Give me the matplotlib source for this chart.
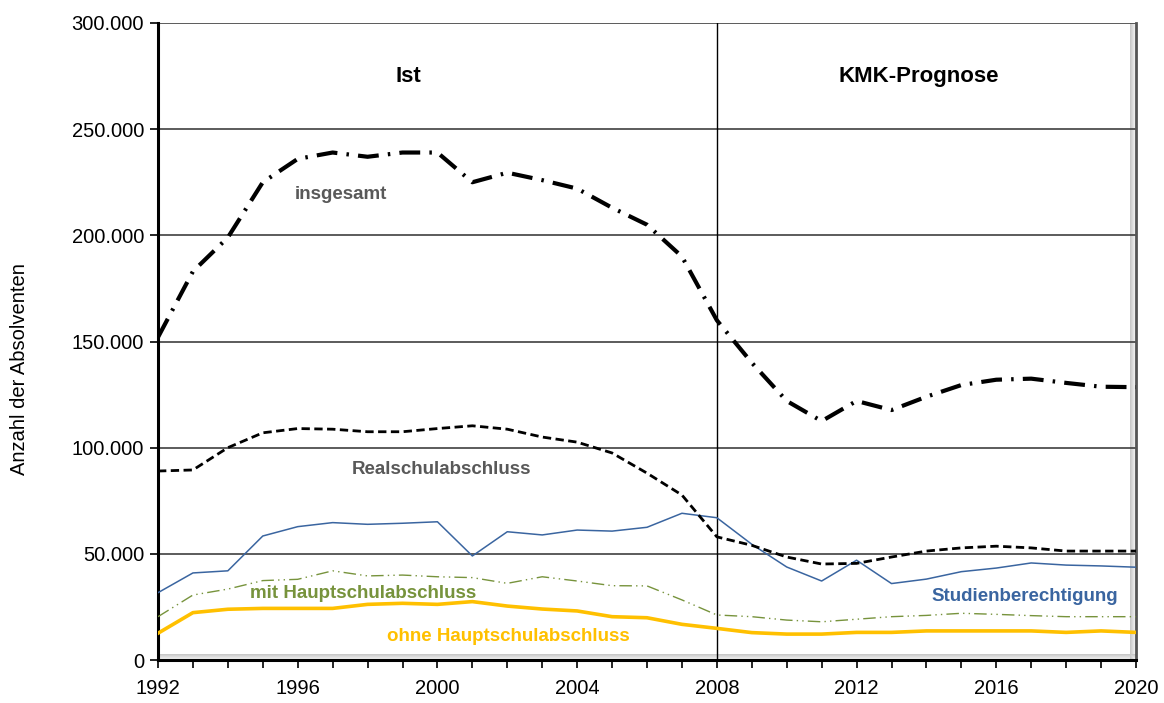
import matplotlib
matplotlib.use("Agg")
import matplotlib.pyplot as plt
import numpy as np
from matplotlib.patches import Rectangle
from matplotlib.ticker import FuncFormatter, MultipleLocator

plt.rcParams['font.family'] = ['Liberation Sans', 'DejaVu Sans']

years = list(range(1992, 2021))
insgesamt = [152, 183, 199, 225, 236, 239, 237, 239, 239, 225, 229.5, 226, 222, 213,
             205, 190, 160, 140, 122, 112.5, 122, 117.7, 124, 129.5, 132, 132.5, 130.5, 128.7, 128.5]
realschul = [89, 89.5, 100, 107, 109, 108.7, 107.5, 107.5, 109, 110.3, 108.7, 105, 102.6, 97.5,
             88, 77.7, 58, 54, 48.5, 45.2, 45.5, 48.5, 51.3, 52.8, 53.6, 52.8, 51.3, 51.3, 51.3]
studien = [31.7, 41, 42, 58.4, 62.8, 64.7, 63.9, 64.4, 65.1, 49, 60.4, 58.9, 61.2, 60.7,
           62.5, 69.1, 67, 54.5, 43.8, 37.2, 47, 36, 38.1, 41.6, 43.3, 45.7, 44.7, 44.3, 43.7]
mit_haupt = [20.4, 30.6, 33.4, 37.4, 38, 42, 39.6, 40, 39.2, 38.8, 36.1, 39.2, 37.2, 35,
             34.9, 28.3, 21.2, 20.4, 18.8, 18, 19.2, 20.4, 21, 22, 21.5, 20.9, 20.4, 20.4, 20.4]
ohne_haupt = [12.6, 22.3, 23.9, 24.3, 24.3, 24.3, 26.2, 26.7, 26.2, 27.5, 25.4, 24, 23.1, 20.4,
              19.9, 16.8, 14.9, 12.9, 12.2, 12.2, 13, 13, 13.7, 13.7, 13.7, 13.7, 13, 13.7, 13]

x_ticks = [1992, 1996, 2000, 2004, 2008, 2012, 2016, 2020]
y_ticks = [0, 50000, 100000, 150000, 200000, 250000, 300000]
split_year = 2008

to_abs = lambda v: [a * 1000 for a in v]

W, H = 1164, 703
fig = plt.figure(figsize=(W / 100, H / 100), dpi=100)
L, R, T, B = 158, 1136, 23, 660
ax = fig.add_axes([L / W, 1 - B / H, (R - L) / W, (B - T) / H])

# 3D-like floor and wall shading
for i in range(6):
    g = 1 - (i + 1) * 0.035
    ax.add_patch(Rectangle((0, i / (B - T)), 1, 1 / (B - T), transform=ax.transAxes,
                           color=(g, g, g), lw=0, zorder=0.5))
    ax.add_patch(Rectangle((1 - (i + 1) / (R - L), 0), 1 / (R - L), 1, transform=ax.transAxes,
                           color=(g, g, g), lw=0, zorder=0.5))

for yv in y_ticks[1:]:
    ax.axhline(yv, color='#404040', lw=1.2, zorder=1)
ax.axvline(split_year, color='black', lw=1.0, zorder=1)

ax.plot(years, to_abs(ohne_haupt), color='#FFC000', lw=2.6, zorder=3)
ax.plot(years, to_abs(mit_haupt), color='#77933C', lw=1.0,
        linestyle=(0, (9, 3, 1, 3, 1, 3)), zorder=3)
ax.plot(years, to_abs(studien), color='#3A65A0', lw=1.1, zorder=3)
ax.plot(years, to_abs(realschul), color='black', lw=2.0,
        linestyle=(0, (3, 1.6)), zorder=4)
ax.plot(years, to_abs(insgesamt), color='black', lw=3.0,
        linestyle=(0, (5, 2.2, 0.6, 2.2)), zorder=5)

ax.set_xlim(1992, 2020)
ax.set_ylim(0, 300000)
ax.set_xticks(x_ticks)
ax.xaxis.set_minor_locator(MultipleLocator(1))
ax.set_yticks(y_ticks)
ax.yaxis.set_major_formatter(FuncFormatter(lambda v, p: f"{int(v):,}".replace(",", ".")))
ax.tick_params(axis='both', which='both', direction='out', length=6, width=1.2, labelsize=14.5,
               color='black')
ax.tick_params(axis='x', pad=8)
ax.tick_params(axis='y', pad=4)

ax.spines['top'].set_visible(False)
ax.spines['left'].set_linewidth(2.2)
ax.spines['bottom'].set_linewidth(2.2)
ax.spines['right'].set_linewidth(2.0)
ax.spines['right'].set_color('#555555')

fig.text(20 / W, 1 - 369 / H, 'Anzahl der Absolventen', fontsize=14.5, rotation=90,
         ha='center', va='center')

ax.text(1999.18, 274600, 'Ist', fontsize=16, fontweight='bold', ha='center', va='center')
ax.text(2013.77, 274600, 'KMK-Prognose', fontsize=16, fontweight='bold', ha='center', va='center')
ax.text(1997.23, 219000, 'insgesamt', fontsize=13.5, fontweight='bold', color='#595959',
        ha='center', va='center')
ax.text(2000.12, 89500, 'Realschulabschluss', fontsize=13.5, fontweight='bold', color='#595959',
        ha='center', va='center')
ax.text(1997.86, 31100, 'mit Hauptschulabschluss', fontsize=13.5, fontweight='bold',
        color='#77933C', ha='center', va='center')
ax.text(2002.04, 11300, 'ohne Hauptschulabschluss', fontsize=13.5, fontweight='bold',
        color='#FFC000', ha='center', va='center')
ax.text(2016.83, 30100, 'Studienberechtigung', fontsize=13.5, fontweight='bold',
        color='#3A65A0', ha='center', va='center')

fig.savefig('out.png', dpi=100)
